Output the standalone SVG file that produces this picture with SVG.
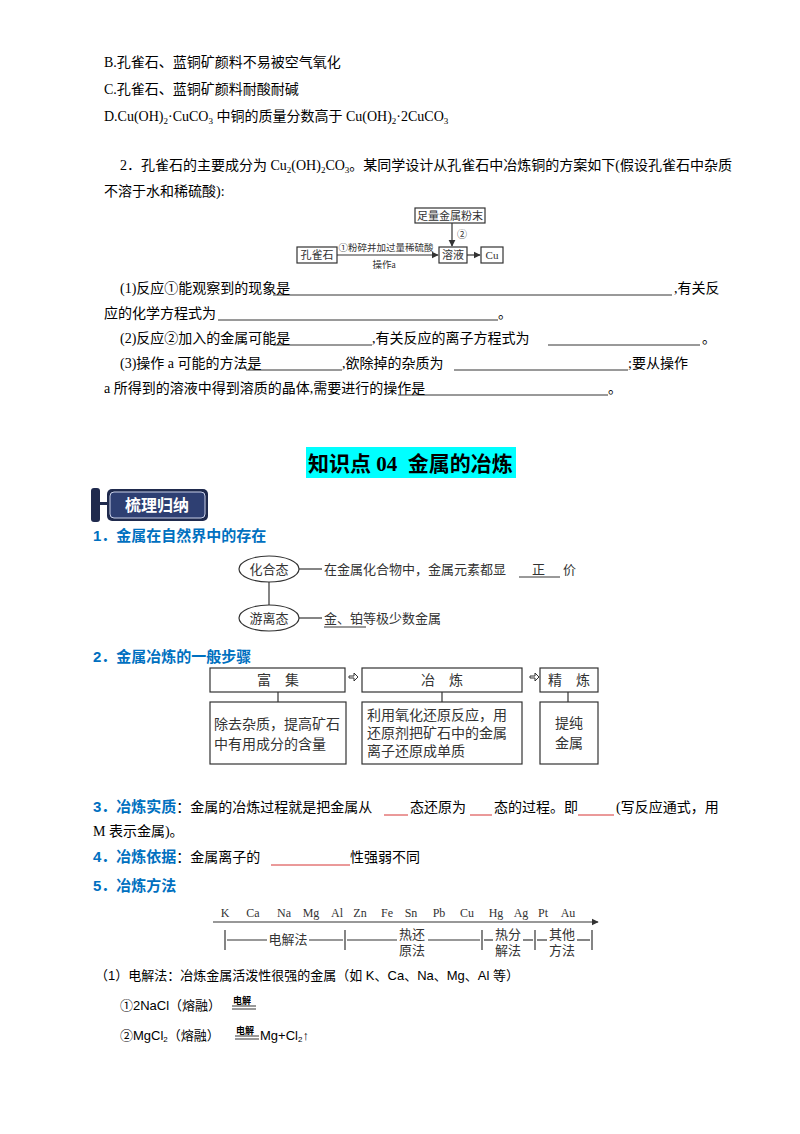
<svg xmlns="http://www.w3.org/2000/svg" width="800" height="1134" viewBox="0 0 800 1134" font-size="14">
<style>
text{font-family:"Liberation Serif","Noto Sans CJK SC",serif;fill:#000}
.s{font-family:"Liberation Sans","Noto Sans CJK SC",sans-serif}
.h{font-family:"Liberation Sans","Noto Sans CJK SC",sans-serif;font-weight:bold;fill:#0070c0;font-size:15px}
.d{fill:#333}
.bx{fill:#fff;stroke:#333;stroke-width:1.2}
.ln{stroke:#333;stroke-width:1.2;fill:none}
.u{stroke:#000;stroke-width:0.8}
.r{stroke:#c00;stroke-width:0.8}
</style>
<defs>
<marker id="a" viewBox="0 0 10 10" refX="9" refY="5" markerWidth="6" markerHeight="6" orient="auto"><path d="M0,0L10,5L0,10z" fill="#333"/></marker>
</defs>
<rect width="800" height="1134" fill="#fff"/>
<text x="104" y="67">B.孔雀石、蓝铜矿颜料不易被空气氧化</text>
<text x="104" y="94">C.孔雀石、蓝铜矿颜料耐酸耐碱</text>
<text x="104" y="121">D.Cu(OH)<tspan font-size="9" dy="3">2</tspan><tspan dy="-3">·CuCO</tspan><tspan font-size="9" dy="3">3</tspan><tspan dy="-3"> 中铜的质量分数高于 Cu(OH)</tspan><tspan font-size="9" dy="3">2</tspan><tspan dy="-3">·2CuCO</tspan><tspan font-size="9" dy="3">3</tspan></text>
<text x="120" y="170">2．孔雀石的主要成分为 Cu<tspan font-size="9" dy="3">2</tspan><tspan dy="-3">(OH)</tspan><tspan font-size="9" dy="3">2</tspan><tspan dy="-3">CO</tspan><tspan font-size="9" dy="3">3</tspan><tspan dy="-3">。某同学设计从孔雀石中冶炼铜的方案如下(假设孔雀石中杂质</tspan></text>
<text x="104" y="196">不溶于水和稀硫酸):</text>
<g id="flow">
<g id="n-kqs"><rect class="bx" x="297" y="247" width="40" height="16"/><text class="d" x="317" y="259" font-size="11" text-anchor="middle">孔雀石</text></g>
<g id="n-zl"><rect class="bx" x="415" y="208" width="70" height="15"/><text class="d" x="450" y="220" font-size="11" text-anchor="middle">足量金属粉末</text></g>
<g id="n-ry"><rect class="bx" x="439" y="247" width="28" height="16"/><text class="d" x="453" y="259" font-size="11" text-anchor="middle">溶液</text></g>
<g id="n-cu"><rect class="bx" x="481" y="247" width="22" height="16"/><text class="d" x="492" y="259" font-size="11" text-anchor="middle">Cu</text></g>
<g id="flow-conn">
<line class="ln" x1="337" y1="255" x2="438" y2="255" marker-end="url(#a)"/>
<line class="ln" x1="452" y1="223" x2="452" y2="246" marker-end="url(#a)"/>
<line class="ln" x1="467" y1="255" x2="480" y2="255" marker-end="url(#a)"/>
</g>
<text class="d" x="386" y="251" text-anchor="middle" font-size="9.5">①粉碎并加过量稀硫酸</text>
<text class="d" x="384" y="268" text-anchor="middle" font-size="9.5">操作a</text>
<text class="d" x="457" y="238" font-size="10">②</text>
</g>
<text x="120" y="293">(1)反应①能观察到的现象是</text><line class="u" x1="273" y1="295" x2="672" y2="295"/><text x="674" y="293">,有关反</text>
<text x="104" y="318">应的化学方程式为</text><line class="u" x1="218" y1="320" x2="498" y2="320"/><text x="498" y="318">。</text>
<text x="120" y="343">(2)反应②加入的金属可能是</text><line class="u" x1="273" y1="345" x2="372" y2="345"/><text x="372" y="343">,有关反应的离子方程式为</text><line class="u" x1="548" y1="345" x2="700" y2="345"/><text x="702" y="343">。</text>
<text x="120" y="368">(3)操作 a 可能的方法是</text><line class="u" x1="246" y1="370" x2="342" y2="370"/><text x="342" y="368">,欲除掉的杂质为</text><line class="u" x1="454" y1="370" x2="628" y2="370"/><text x="628" y="368">;要从操作</text>
<text x="104" y="393">a 所得到的溶液中得到溶质的晶体,需要进行的操作是</text><line class="u" x1="398" y1="395" x2="608" y2="395"/><text x="608" y="393">。</text>
<rect x="306" y="447" width="210" height="31" fill="#00ffff"/>
<text x="308" y="471" font-size="21" font-weight="bold" xml:space="preserve">知识点 04  金属的冶炼</text>
<g id="tag">
<rect x="91" y="488" width="9" height="34" rx="3" fill="#1f2a4d"/>
<rect x="98" y="502" width="10" height="3" fill="#1f2a4d"/>
<rect x="107" y="489" width="101" height="32" rx="5" fill="#1f2a4d"/>
<rect x="110" y="492" width="95" height="26" rx="4" fill="#2e3f72" stroke="#c9d0e8" stroke-width="1"/>
<text class="s" x="157" y="511" text-anchor="middle" font-size="16" font-weight="bold" style="fill:#fff">梳理归纳</text>
</g>
<text class="h" x="93" y="541">1．金属在自然界中的存在</text>
<g id="exist">
<g id="conn-exist">
<line class="ln" x1="269" y1="582" x2="269" y2="605"/>
<line class="ln" x1="299" y1="569" x2="322" y2="569"/>
<line class="ln" x1="299" y1="618" x2="322" y2="618"/>
</g>
<g id="n-hht"><ellipse class="bx" cx="269" cy="569" rx="30" ry="13"/><text class="d" x="269" y="574" text-anchor="middle" font-size="13">化合态</text></g>
<g id="n-ylt"><ellipse class="bx" cx="269" cy="618" rx="30" ry="13"/><text class="d" x="269" y="623" text-anchor="middle" font-size="13">游离态</text></g>
<text class="d" x="324" y="574" font-size="13">在金属化合物中，金属元素都显</text><line class="u" x1="519" y1="577" x2="560" y2="577"/><text class="d" x="532" y="574" font-size="13">正</text><text class="d" x="563" y="574" font-size="13">价</text>
<text class="d" x="324" y="623" font-size="13">金、铂等极少数金属</text><line class="u" x1="324" y1="627" x2="366" y2="627"/>
</g>
<text class="h" x="93" y="662">2．金属冶炼的一般步骤</text>
<g id="steps">
<g id="conn-steps">
<line class="ln" x1="278" y1="692" x2="278" y2="702"/>
<line class="ln" x1="442" y1="692" x2="442" y2="702"/>
<line class="ln" x1="568" y1="692" x2="568" y2="702"/>
<path d="M349,676h5v-3l4,4l-4,4v-3h-5z" fill="#fff" stroke="#333"/>
<path d="M530,676h5v-3l4,4l-4,4v-3h-5z" fill="#fff" stroke="#333"/>
</g>
<g id="n-fj"><rect class="bx" x="210" y="668" width="135" height="24"/><text class="d" x="278" y="685" text-anchor="middle" font-size="14">富　集</text></g>
<g id="n-yl"><rect class="bx" x="362" y="668" width="160" height="24"/><text class="d" x="442" y="685" text-anchor="middle" font-size="14">冶　炼</text></g>
<g id="n-jl"><rect class="bx" x="540" y="668" width="58" height="24"/><text class="d" x="569" y="685" text-anchor="middle" font-size="14">精　炼</text></g>
<g id="n-fj2"><rect class="bx" x="210" y="702" width="136" height="62"/><text class="d" x="214" y="729" font-size="14">除去杂质，提高矿石</text><text class="d" x="214" y="749" font-size="14">中有用成分的含量</text></g>
<g id="n-yl2"><rect class="bx" x="362" y="702" width="160" height="62"/><text class="d" x="367" y="720" font-size="14">利用氧化还原反应，用</text><text class="d" x="367" y="738" font-size="14">还原剂把矿石中的金属</text><text class="d" x="367" y="756" font-size="14">离子还原成单质</text></g>
<g id="n-jl2"><rect class="bx" x="540" y="702" width="58" height="62"/><text class="d" x="569" y="728" text-anchor="middle" font-size="14">提纯</text><text class="d" x="569" y="748" text-anchor="middle" font-size="14">金属</text></g>
</g>
<text x="93" y="812"><tspan style="font-family:'Liberation Sans','Noto Sans CJK SC',sans-serif;font-weight:bold;fill:#0070c0;font-size:15px">3．冶炼实质</tspan>：金属的冶炼过程就是把金属从</text>
<line class="r" x1="384" y1="815" x2="408" y2="815"/><text x="410" y="812">态还原为</text><line class="r" x1="470" y1="815" x2="492" y2="815"/><text x="494" y="812">态的过程。即</text><line class="r" x1="578" y1="815" x2="614" y2="815"/><text x="616" y="812">(写反应通式，用</text>
<text x="93" y="836">M 表示金属)。</text>
<text x="93" y="862"><tspan style="font-family:'Liberation Sans','Noto Sans CJK SC',sans-serif;font-weight:bold;fill:#0070c0;font-size:15px">4．冶炼依据</tspan>：金属离子的</text><line class="r" x1="271" y1="865" x2="350" y2="865"/><text x="350" y="862">性强弱不同</text>
<text class="h" x="93" y="891">5．冶炼方法</text>
<g id="series">
<line class="ln" x1="213" y1="922" x2="598" y2="922" marker-end="url(#a)"/>
<g font-size="12">
<text class="d" x="225" y="917" text-anchor="middle">K</text>
<text class="d" x="253" y="917" text-anchor="middle">Ca</text>
<text class="d" x="284" y="917" text-anchor="middle">Na</text>
<text class="d" x="311" y="917" text-anchor="middle">Mg</text>
<text class="d" x="337" y="917" text-anchor="middle">Al</text>
<text class="d" x="360" y="917" text-anchor="middle">Zn</text>
<text class="d" x="387" y="917" text-anchor="middle">Fe</text>
<text class="d" x="411" y="917" text-anchor="middle">Sn</text>
<text class="d" x="439" y="917" text-anchor="middle">Pb</text>
<text class="d" x="467" y="917" text-anchor="middle">Cu</text>
<text class="d" x="496" y="917" text-anchor="middle">Hg</text>
<text class="d" x="521" y="917" text-anchor="middle">Ag</text>
<text class="d" x="543" y="917" text-anchor="middle">Pt</text>
<text class="d" x="568" y="917" text-anchor="middle">Au</text>
</g>
<g class="ln">
<line x1="225" y1="930" x2="225" y2="950"/><line x1="345" y1="930" x2="345" y2="950"/><line x1="482" y1="930" x2="482" y2="950"/><line x1="535" y1="930" x2="535" y2="950"/><line x1="592" y1="930" x2="592" y2="950"/>
<line x1="227" y1="940" x2="267" y2="940"/><line x1="309" y1="940" x2="343" y2="940"/>
<line x1="347" y1="940" x2="397" y2="940"/><line x1="428" y1="940" x2="480" y2="940"/>
<line x1="484" y1="940" x2="493" y2="940"/><line x1="523" y1="940" x2="533" y2="940"/>
<line x1="537" y1="940" x2="547" y2="940"/><line x1="577" y1="940" x2="590" y2="940"/>
</g>
<g font-size="13">
<text class="d" x="288" y="944" text-anchor="middle">电解法</text>
<text class="d" x="412" y="939" text-anchor="middle">热还</text><text class="d" x="412" y="955" text-anchor="middle">原法</text>
<text class="d" x="508" y="939" text-anchor="middle">热分</text><text class="d" x="508" y="955" text-anchor="middle">解法</text>
<text class="d" x="562" y="939" text-anchor="middle">其他</text><text class="d" x="562" y="955" text-anchor="middle">方法</text>
</g>
</g>
<text class="s" x="95" y="980" font-size="13">（1）电解法：冶炼金属活泼性很强的金属（如 K、Ca、Na、Mg、Al 等）</text>
<text class="s" x="120" y="1010" font-size="13">①2NaCl（熔融）</text>
<text class="s" x="233" y="1004" font-size="9" font-weight="bold">电解</text><line class="u" x1="232" y1="1006" x2="256" y2="1006"/><line class="u" x1="232" y1="1009" x2="256" y2="1009"/>
<text class="s" x="120" y="1040" font-size="13">②MgCl<tspan font-size="8" dy="2">2</tspan><tspan dy="-2">（熔融）</tspan></text>
<text class="s" x="236" y="1034" font-size="9" font-weight="bold">电解</text><line class="u" x1="235" y1="1036" x2="259" y2="1036"/><line class="u" x1="235" y1="1039" x2="259" y2="1039"/>
<text class="s" x="260" y="1040" font-size="13">Mg+Cl<tspan font-size="8" dy="2">2</tspan><tspan dy="-2">↑</tspan></text>
</svg>
